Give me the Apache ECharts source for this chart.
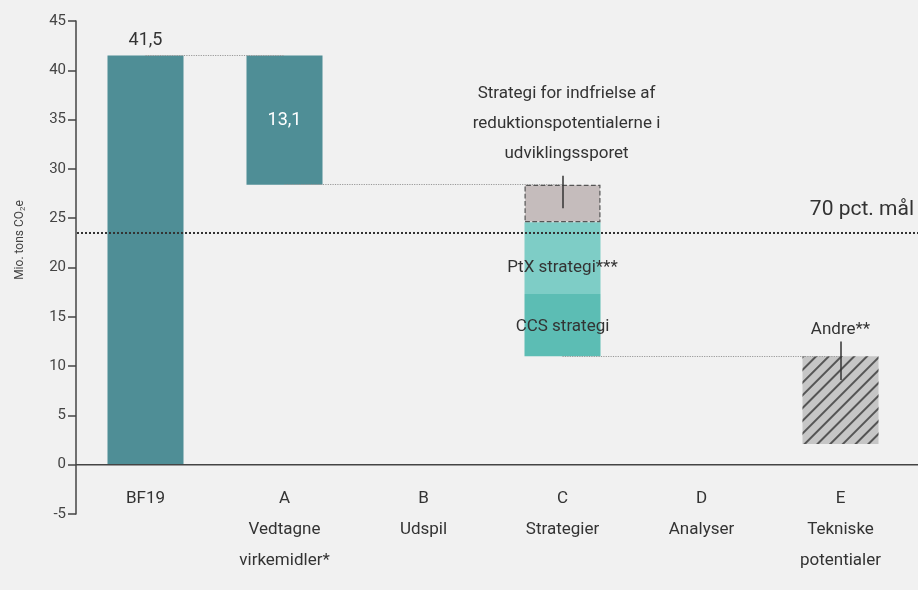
<!DOCTYPE html>
<html><head><meta charset="utf-8">
<script src="https://cdn.jsdelivr.net/npm/echarts@6/dist/echarts.min.js"></script>
<style>html,body{margin:0;padding:0;background:#f1f1f1;}#c{width:918px;height:590px;}</style>
</head><body><div id="c"></div>
<script>
var categories = ['BF19', 'A\nVedtagne\nvirkemidler*', 'B\nUdspil', 'C\nStrategier', 'D\nAnalyser', 'E\nTekniske\npotentialer'];
var baseline = 41.5;          // BF19
var vedtagne = 13.1;          // A reduction
var ccs = 6.3;                // C: CCS strategi
var ptx = 7.3;                // C: PtX strategi
var udvikling = 3.8;          // C: Strategi for indfrielse...
var andre = 8.9;              // E: Andre**
var target = 23.5;            // 70 pct. mål
var yTicks = {min: -5, max: 45, interval: 5};

var aBase = +(baseline - vedtagne).toFixed(1);
var cBase = +(aBase - udvikling - ptx - ccs).toFixed(1);
var eBase = +(cBase - andre).toFixed(1);

var font = 'Roboto, "Noto Sans", sans-serif';
var N = '-';

var chart = echarts.init(document.getElementById('c'));
var option = {
  backgroundColor: '#f1f1f1',
  animation: false,
  grid: {left: 76, right: 8, top: 21, bottom: 76, outerBoundsMode: 'none', containLabel: false},
  xAxis: {
    type: 'category', data: categories,
    axisLine: {show: false, onZero: false}, axisTick: {show: false},
    axisLabel: {color: '#333', fontSize: 17, fontFamily: font, lineHeight: 31, margin: -31, interval: 0}
  },
  yAxis: {
    type: 'value', min: yTicks.min, max: yTicks.max, interval: yTicks.interval,
    splitLine: {show: false},
    axisLine: {show: true, lineStyle: {color: '#444', width: 1.5}},
    axisTick: {show: true, length: 8, lineStyle: {color: '#444', width: 1.5}},
    axisLabel: {color: '#444', fontSize: 15, fontFamily: font, margin: 10}
  },
  series: [
    {
      type: 'bar', stack: 'w', barWidth: 76, z: 2, silent: true,
      itemStyle: {color: 'transparent'},
      data: [0, aBase, N, cBase, N, eBase]
    },
    {
      type: 'bar', stack: 'w', z: 2,
      itemStyle: {color: '#4f8e96'},
      data: [
        {value: baseline, label: {show: true, position: 'top', distance: 6, formatter: '41,5', color: '#333', fontSize: 18, fontFamily: font}},
        {value: vedtagne, label: {show: true, position: 'inside', formatter: '13,1', color: '#fff', fontSize: 18, fontFamily: font}},
        N, N, N, N]
    },
    {
      type: 'bar', stack: 'w', z: 2,
      itemStyle: {color: '#5cbdb4'},
      label: {show: true, position: 'inside', formatter: 'CCS strategi', color: '#333', fontSize: 17, fontFamily: font, offset: [0, 2]},
      data: [N, N, N, ccs, N, N]
    },
    {
      type: 'bar', stack: 'w', z: 2,
      itemStyle: {color: '#7ecdc6'},
      label: {show: true, position: 'inside', formatter: 'PtX strategi***', color: '#333', fontSize: 17, fontFamily: font, offset: [0, 10]},
      data: [N, N, N, ptx, N, N]
    },
    {
      type: 'bar', stack: 'w', z: 2,
      itemStyle: {color: '#c5bcbc', borderColor: '#555', borderWidth: 1.2, borderType: 'dashed'},
      label: {show: true, position: 'top', distance: 16, formatter: 'Strategi for indfrielse af\nreduktionspotentialerne i\nudviklingssporet', color: '#333', fontSize: 17, lineHeight: 30, fontFamily: font, offset: [4, 0]},
      data: [N, N, N, udvikling, N, N]
    },
    {
      type: 'bar', stack: 'w', z: 2,
      itemStyle: {color: '#c6c6c6', decal: {symbol: 'rect', color: '#555', dashArrayX: [1, 0], dashArrayY: [2, 7], rotation: -Math.PI / 4}},
      label: {show: true, position: 'top', distance: 18, formatter: 'Andre**', color: '#333', fontSize: 17, fontFamily: font},
      data: [N, N, N, N, N, andre]
    },
    {
      type: 'line', data: [], z: 1, silent: true,
      markLine: {
        symbol: 'none', silent: true, label: {show: false},
        lineStyle: {color: '#999', type: 'dotted', width: 1.2},
        data: [
          [{coord: [0, baseline]}, {coord: [1, baseline]}],
          [{coord: [1, aBase]}, {coord: [3, aBase]}],
          [{coord: [3, cBase]}, {coord: [5, cBase]}]
        ]
      }
    },
    {
      type: 'line', data: [], z: 5, silent: true,
      markLine: {
        symbol: 'none', silent: true, label: {show: false},
        lineStyle: {color: '#333', type: 'solid', width: 1.5},
        data: [
          [{coord: [3, 29.3]}, {coord: [3, 26.0]}],
          [{coord: [5, 12.5]}, {coord: [5, 8.6]}]
        ]
      }
    }
  ]
};
chart.setOption(option);

var yT = chart.convertToPixel({yAxisIndex: 0}, target);
var y0 = chart.convertToPixel({yAxisIndex: 0}, 0);
chart.setOption({
  graphic: [
    {type: 'line', z: 10, shape: {x1: 76, y1: y0, x2: 918, y2: y0}, style: {stroke: '#444', lineWidth: 1.5}},
    {type: 'line', z: 10, shape: {x1: 77, y1: yT, x2: 918, y2: yT}, style: {stroke: '#333', lineWidth: 2, lineDash: [2, 2]}},
    {type: 'text', z: 10, right: 4, top: yT - 34, style: {text: '70 pct. mål', font: '21px ' + font, fill: '#333'}},
    {type: 'text', z: 10, rotation: Math.PI / 2, x: 20, y: 240,
      style: {text: 'Mio. tons CO{s|2}e', align: 'center', verticalAlign: 'middle', font: '12px ' + font, fill: '#444',
        rich: {s: {fontSize: 8, verticalAlign: 'bottom', padding: [6, 0, 0, 0], fill: '#444'}}}}
  ]
});
</script></body></html>
